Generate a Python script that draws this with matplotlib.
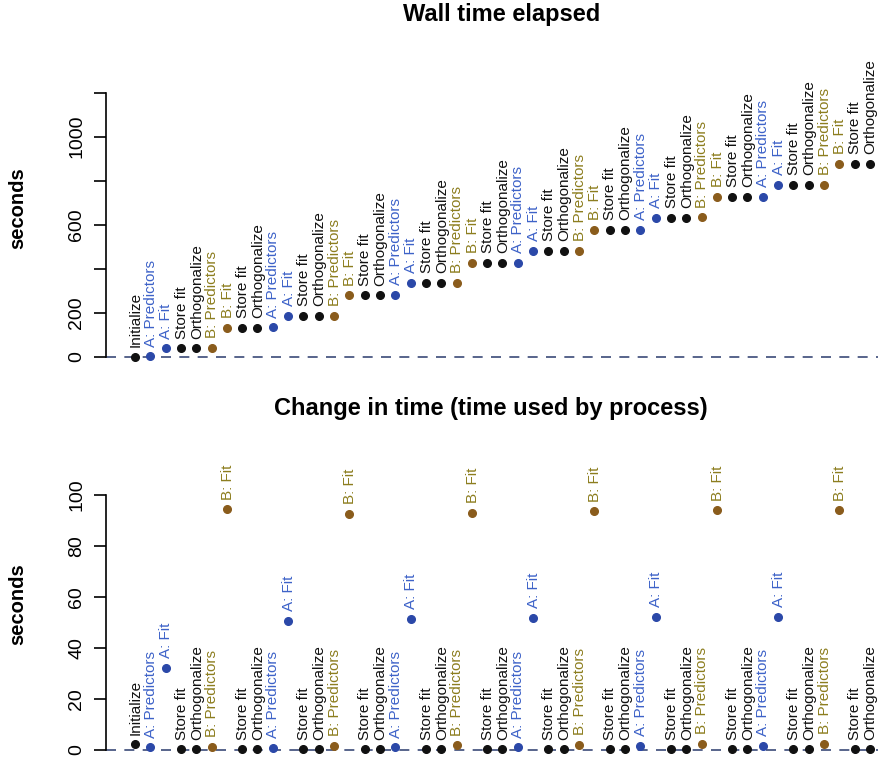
#%% Librerias
import numpy as np
import matplotlib
matplotlib.use('Agg')
import matplotlib.pyplot as plt

plt.rcParams['font.family'] = ['Liberation Sans', 'DejaVu Sans']

#%% Datos
cycle = ['A: Predictors', 'A: Fit', 'Store fit', 'Orthogonalize',
         'B: Predictors', 'B: Fit', 'Store fit', 'Orthogonalize']
steps = ['Initialize'] + cycle * 6

# tiempo acumulado (s)
wall = [0, 2, 38, 38, 38, 39, 132, 132, 132, 133, 185, 185, 185, 186,
        279, 279, 279, 280, 335, 335, 335, 336, 427, 427, 427, 428,
        480, 480, 480, 482, 576, 576, 576, 577, 632, 632, 632, 633,
        727, 727, 727, 728, 780, 780, 780, 781, 876, 876, 876]

# tiempo usado por cada proceso (s)
delta = [2.2, 1.0, 32.3, 0.3, 0.3, 1.3, 94.4, 0.3, 0.3, 0.8, 50.6, 0.3, 0.3,
         1.6, 92.5, 0.3, 0.3, 1.0, 51.4, 0.3, 0.3, 1.8, 93.1, 0.3, 0.3,
         1.0, 51.9, 0.3, 0.3, 2.0, 93.6, 0.3, 0.3, 1.5, 52.2, 0.3, 0.3,
         2.3, 94.0, 0.3, 0.3, 1.5, 52.3, 0.3, 0.3, 2.3, 94.0, 0.3, 0.3]

top_ticks = [0, 200, 400, 600, 800, 1000, 1200]
top_ticklabels = ['0', '200', '', '600', '', '1000', '']
bot_ticks = [0, 20, 40, 60, 80, 100]

#%% Colores
def text_color(s):
    if s.startswith('A:'):
        return '#3d62c8'
    if s.startswith('B:'):
        return '#8c7d1e'
    return '#111111'

def dot_color(s):
    if s.startswith('A:'):
        return '#2b48a8'
    if s.startswith('B:'):
        return '#8a5c1c'
    return '#111111'

xx = np.arange(len(steps))
W, H = 883, 761
fig = plt.figure(figsize=(W/100, H/100), dpi=100)

def make_axes(y0px, y1px, ylim):
    # y0px: pixel of ylim[0], y1px: pixel of ylim[1]
    left = 105.9 / W
    width = (877.6 - 105.9) / W
    bottom = 1 - y0px / H
    height = (y0px - y1px) / H
    ax = fig.add_axes([left, bottom, width, height])
    ax.set_xlim(-1.9, 48.5)
    ax.set_ylim(*ylim)
    for sp in ['top', 'right', 'bottom']:
        ax.spines[sp].set_visible(False)
    ax.set_xticks([])
    ax.tick_params(axis='y', length=9, width=1.2, pad=6, labelsize=14)
    ax.spines['left'].set_linewidth(1.2)
    ax.set_facecolor('none')
    return ax

def draw(ax, yy):
    ax.axhline(0, color='#3b4a78', lw=1.2, ls=(0, (6, 5)), zorder=1)
    for x, y, s in zip(xx, yy, steps):
        ax.plot(x, y, 'o', ms=5.5, color=dot_color(s), zorder=3, clip_on=False)
        ax.annotate(s, (x, y), xytext=(0.5, 7), textcoords='offset points',
                    rotation=90, ha='center', va='bottom', fontsize=11,
                    color=text_color(s), annotation_clip=False)
    for t in ax.get_yticklabels():
        t.set_rotation(90)
        t.set_va('center')

#%% Panel superior
ax1 = make_axes(356.7 + 20 * 0.22, 356.7 - 1220 * 0.22, (-20, 1220))
ax1.set_yticks(top_ticks)
ax1.set_yticklabels(top_ticklabels)
ax1.spines['left'].set_bounds(0, 1200)
draw(ax1, wall)
fig.text(18 / W, 1 - 208 / H, 'seconds', rotation=90, ha='center', va='center',
         fontsize=14.5, fontweight='bold')
fig.text(502 / W, 1 - 14 / H, 'Wall time elapsed', ha='center', va='center',
         fontsize=17, fontweight='bold')

#%% Panel inferior
ax2 = make_axes(750 + 2 * 2.55, 750 - 108 * 2.55, (-2, 108))
ax2.set_yticks(bot_ticks)
ax2.spines['left'].set_bounds(0, 100)
draw(ax2, delta)
fig.text(18 / W, 1 - 604 / H, 'seconds', rotation=90, ha='center', va='center',
         fontsize=14.5, fontweight='bold')
fig.text(491 / W, 1 - 408 / H, 'Change in time (time used by process)',
         ha='center', va='center', fontsize=17, fontweight='bold')

fig.savefig('out.png', dpi=100)
